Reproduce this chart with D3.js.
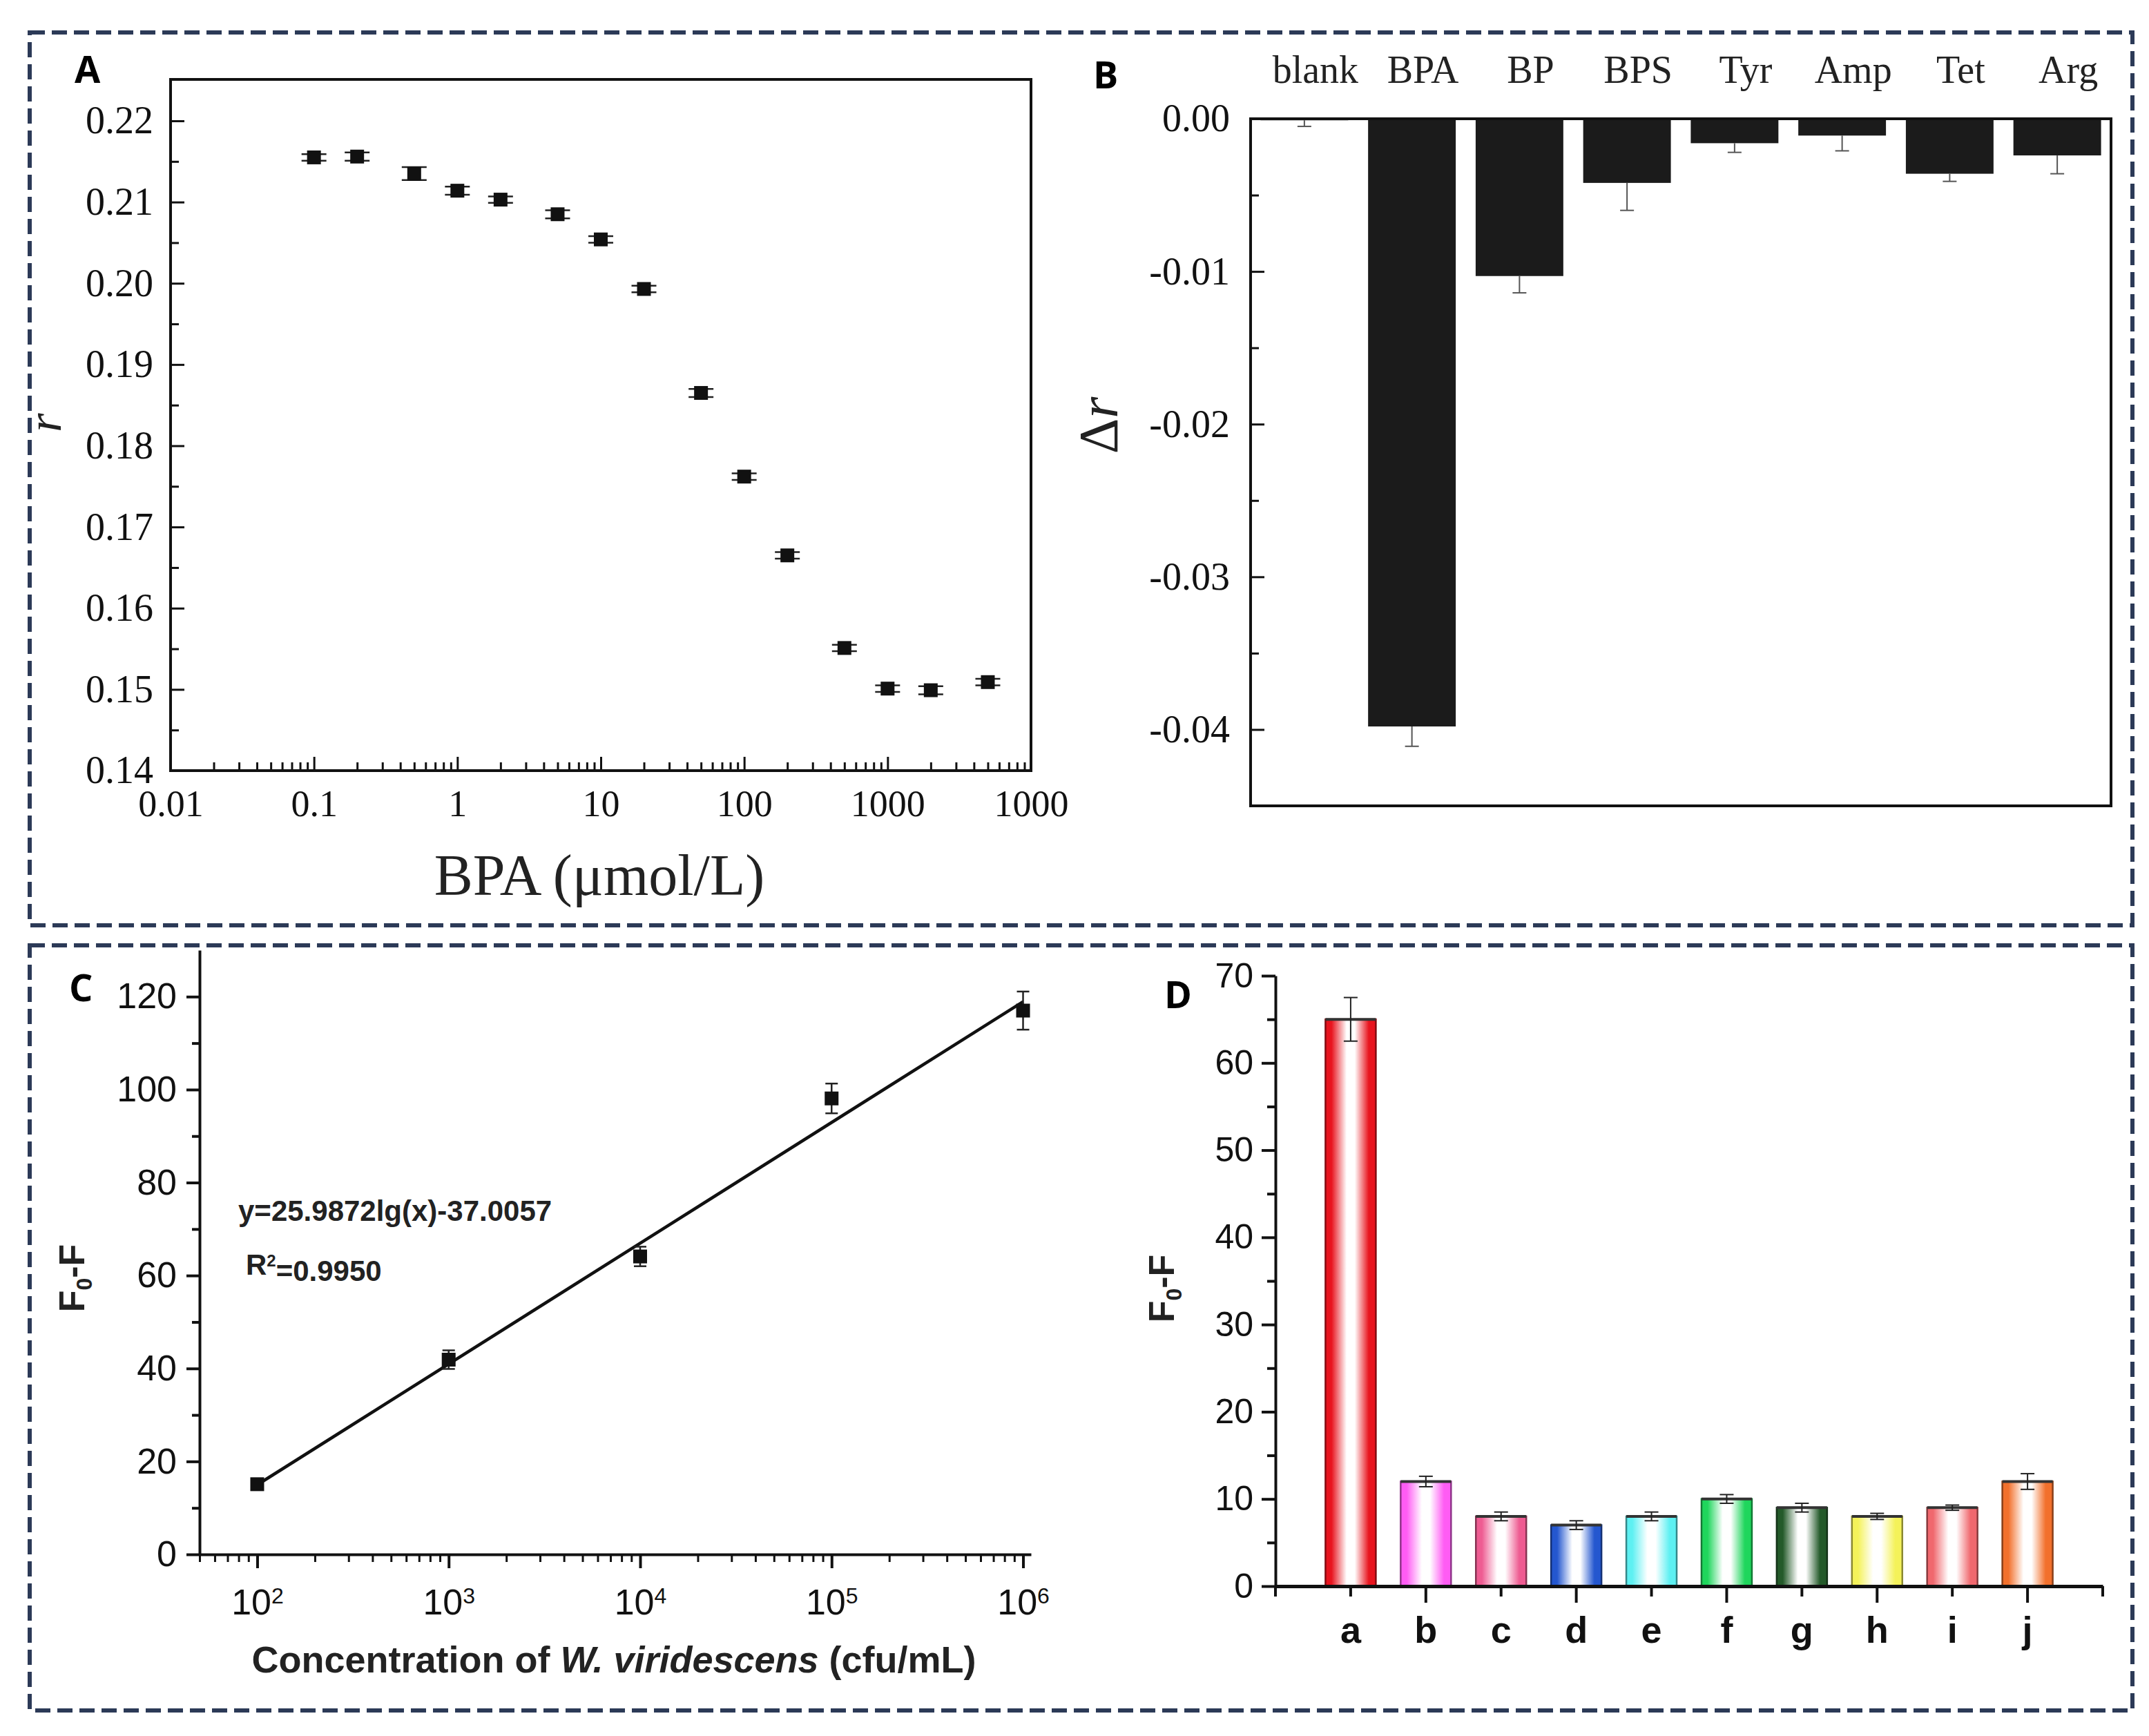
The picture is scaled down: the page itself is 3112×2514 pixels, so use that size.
<!DOCTYPE html>
<html>
<head>
<meta charset="utf-8">
<script src="https://cdn.jsdelivr.net/npm/d3@7"></script>
<style>
  body { margin: 0; background: #fff; }
</style>
</head>
<body>
<div id="container"></div>
<script>
// ---- data ----
// A: fluorescence anisotropy r vs BPA concentration
var bpaConc = [0.1, 0.2, 0.5, 1, 2, 5, 10, 20, 50, 100, 200, 500, 1000, 2000, 5000];
var bpaR    = [0.2155, 0.2156, 0.2135, 0.2114, 0.2103, 0.2085, 0.2054, 0.1993, 0.1865, 0.1762, 0.1665, 0.1551, 0.1501, 0.1499, 0.1509];
var bpaErr  = [0.0004, 0.0005, 0.0008, 0.0005, 0.0004, 0.0005, 0.0004, 0.0004, 0.0005, 0.0004, 0.0004, 0.0004, 0.0004, 0.0005, 0.0004];
var aXTicks  = [0.01, 0.1, 1, 10, 100, 1000, 10000];
var aXLabels = ["0.01", "0.1", "1", "10", "100", "1000", "1000"];
var aYTicks  = [0.14, 0.15, 0.16, 0.17, 0.18, 0.19, 0.20, 0.21, 0.22];

// B: selectivity, delta r
var selCats = ["blank", "BPA", "BP", "BPS", "Tyr", "Amp", "Tet", "Arg"];
var selDr   = [-0.0001, -0.0398, -0.0103, -0.0042, -0.0016, -0.0011, -0.0036, -0.0024];
var selErr  = [0.0004, 0.0013, 0.0011, 0.0018, 0.0006, 0.0010, 0.0005, 0.0012];
var bYTicks  = [0, -0.01, -0.02, -0.03, -0.04];
var bYLabels = ["0.00", "-0.01", "-0.02", "-0.03", "-0.04"];

// C: calibration, F0-F vs W. viridescens concentration
var cellConc   = [1e2, 1e3, 1e4, 1e5, 1e6];
var cellSignal = [15.1, 41.9, 64.1, 98.1, 117.0];
var cellErr    = [0.9, 2.0, 2.1, 3.2, 4.1];
var fitCoef    = [25.9872, -37.0057];   // y = a*lg(x) + b
var fitRange   = [1e2, 1e6];
var cXTicks    = [1e2, 1e3, 1e4, 1e5, 1e6];
var cYTicks    = [0, 20, 40, 60, 80, 100, 120];

// D: specificity, F0-F per strain
var strainCats = ["a", "b", "c", "d", "e", "f", "g", "h", "i", "j"];
var strainVals = [65, 12, 8, 7, 8, 10, 9, 8, 9, 12];
var strainErr  = [2.5, 0.6, 0.5, 0.5, 0.5, 0.5, 0.5, 0.35, 0.3, 0.9];
var dYTicks    = [0, 10, 20, 30, 40, 50, 60, 70];
var strainColors = ["#e8141e", "#ff5cf4", "#ee5c92", "#2457cf", "#5ef0f2", "#1fd65c",
                    "#245a2a", "#f4f25a", "#f0686e", "#f2702c"];

var SERIF = "'Liberation Serif', 'Times New Roman', serif";
var SANS  = "'Liberation Sans', Arial, sans-serif";

var svg = d3.select("#container")
  .append("svg")
    .attr("width", 3112)
    .attr("height", 2514);

svg.append("rect").attr("width", 3112).attr("height", 2514).attr("fill", "#fff");

// dashed boxes around the two rows
[[43, 47, 3088, 1340], [43, 1369, 3088, 2477]].forEach(function(b) {
  svg.append("rect")
    .attr("x", b[0]).attr("y", b[1])
    .attr("width", b[2] - b[0]).attr("height", b[3] - b[1])
    .attr("fill", "none")
    .attr("stroke", "#2c3a57")
    .attr("stroke-width", 6)
    .attr("stroke-dasharray", "22,10");
});

function panelLetter(t, x, y) {
  svg.append("text")
    .attr("x", x).attr("y", y)
    .attr("font-family", "'Open Sans', 'Liberation Sans', sans-serif")
    .attr("font-weight", "bold")
    .attr("font-size", 54)
    .text(t);
}

function logMinors(lo, hi) {
  var out = [];
  for (var e = -3; e <= 7; e++) {
    for (var k = 2; k <= 9; k++) {
      var v = k * Math.pow(10, e);
      if (v >= lo && v <= hi) out.push(v);
    }
  }
  return out;
}

function styleAxis(g, font, size, sw) {
  g.attr("font-family", font).attr("font-size", size).attr("fill", "#111");
  g.selectAll("line").attr("stroke", "#111").attr("stroke-width", sw);
  g.selectAll("path").attr("stroke", "#111").attr("stroke-width", sw);
  g.selectAll("text").attr("fill", "#111");
}

// ================= Panel A =================
var A = {left: 247, right: 1493, top: 115, bottom: 1116};
var xA = d3.scaleLog().domain([0.01, 10000]).range([A.left, A.right]);
var yA = d3.scaleLinear().domain([0.14, 0.2251]).range([A.bottom, A.top]);

var gAx = svg.append("g")
  .attr("transform", "translate(0," + A.bottom + ")")
  .call(d3.axisBottom(xA).tickValues(aXTicks).tickFormat(function(d, i) { return aXLabels[i]; })
        .tickSizeInner(-20).tickSizeOuter(0).tickPadding(28));
gAx.select(".domain").remove();
styleAxis(gAx, SERIF, 54, 3);

var gAxm = svg.append("g")
  .attr("transform", "translate(0," + A.bottom + ")")
  .call(d3.axisBottom(xA).tickValues(logMinors(0.01, 10000)).tickFormat("").tickSizeInner(-12).tickSizeOuter(0));
gAxm.select(".domain").remove();
styleAxis(gAxm, SERIF, 54, 3);

var gAy = svg.append("g")
  .attr("transform", "translate(" + A.left + ",0)")
  .call(d3.axisLeft(yA).tickValues(aYTicks).tickFormat(d3.format(".2f"))
        .tickSizeInner(-20).tickSizeOuter(0).tickPadding(25));
gAy.select(".domain").remove();
styleAxis(gAy, SERIF, 56, 3);

var gAym = svg.append("g")
  .attr("transform", "translate(" + A.left + ",0)")
  .call(d3.axisLeft(yA).tickValues([0.145, 0.155, 0.165, 0.175, 0.185, 0.195, 0.205, 0.215]).tickFormat("")
        .tickSizeInner(-12).tickSizeOuter(0));
gAym.select(".domain").remove();
styleAxis(gAym, SERIF, 56, 3);

svg.append("rect")
  .attr("x", A.left).attr("y", A.top)
  .attr("width", A.right - A.left).attr("height", A.bottom - A.top)
  .attr("fill", "none").attr("stroke", "#111").attr("stroke-width", 4);

var ptsA = bpaConc.map(function(c, i) { return {x: c, y: bpaR[i], e: bpaErr[i]}; });
var eA = svg.append("g").attr("stroke", "#222").attr("stroke-width", 2.5);
ptsA.forEach(function(p) {
  var cx = xA(p.x);
  eA.append("line").attr("x1", cx).attr("x2", cx).attr("y1", yA(p.y - p.e)).attr("y2", yA(p.y + p.e));
  eA.append("line").attr("x1", cx - 18).attr("x2", cx + 18).attr("y1", yA(p.y - p.e)).attr("y2", yA(p.y - p.e));
  eA.append("line").attr("x1", cx - 18).attr("x2", cx + 18).attr("y1", yA(p.y + p.e)).attr("y2", yA(p.y + p.e));
});
svg.append("g").selectAll("rect")
  .data(ptsA).enter().append("rect")
    .attr("x", function(d) { return xA(d.x) - 10; })
    .attr("y", function(d) { return yA(d.y) - 10; })
    .attr("width", 20).attr("height", 20)
    .attr("fill", "#111");

svg.append("text")
  .attr("x", (A.left + A.right) / 2 - 2).attr("y", 1296)
  .attr("text-anchor", "middle")
  .attr("font-family", SERIF).attr("font-size", 84).attr("fill", "#222")
  .text("BPA (μmol/L)");

svg.append("text")
  .attr("transform", "translate(88,612) rotate(-90)")
  .attr("text-anchor", "middle")
  .attr("font-family", SERIF).attr("font-style", "italic").attr("font-size", 70).attr("fill", "#222")
  .text("r");

panelLetter("A", 108, 120);

// ================= Panel B =================
var B = {left: 1811, right: 3057, top: 172, bottom: 1167};
var xB = d3.scaleBand().domain(selCats).range([B.left, B.right]).paddingInner(0.185).paddingOuter(0.0925);
var yB = d3.scaleLinear().domain([-0.045, 0]).range([B.bottom, B.top]);

var gBy = svg.append("g")
  .attr("transform", "translate(" + B.left + ",0)")
  .call(d3.axisLeft(yB).tickValues(bYTicks).tickFormat(function(d, i) { return bYLabels[i]; })
        .tickSizeInner(-20).tickSizeOuter(0).tickPadding(30));
gBy.select(".domain").remove();
styleAxis(gBy, SERIF, 56, 3);

var gBym = svg.append("g")
  .attr("transform", "translate(" + B.left + ",0)")
  .call(d3.axisLeft(yB).tickValues([-0.005, -0.015, -0.025, -0.035]).tickFormat("")
        .tickSizeInner(-12).tickSizeOuter(0));
gBym.select(".domain").remove();
styleAxis(gBym, SERIF, 56, 3);

var ptsB = selCats.map(function(c, i) { return {c: c, v: selDr[i], e: selErr[i]}; });
svg.append("g").selectAll("rect")
  .data(ptsB).enter().append("rect")
    .attr("x", function(d) { return xB(d.c); })
    .attr("y", yB(0))
    .attr("width", xB.bandwidth())
    .attr("height", function(d) { return yB(d.v) - yB(0); })
    .attr("fill", "#1b1b1b");

var eB = svg.append("g").attr("stroke", "#555").attr("stroke-width", 2);
ptsB.forEach(function(p) {
  var cx = xB(p.c) + xB.bandwidth() / 2;
  eB.append("line").attr("x1", cx).attr("x2", cx).attr("y1", yB(p.v)).attr("y2", yB(p.v - p.e));
  eB.append("line").attr("x1", cx - 10).attr("x2", cx + 10).attr("y1", yB(p.v - p.e)).attr("y2", yB(p.v - p.e));
});

svg.append("rect")
  .attr("x", B.left).attr("y", B.top)
  .attr("width", B.right - B.left).attr("height", B.bottom - B.top)
  .attr("fill", "none").attr("stroke", "#111").attr("stroke-width", 4);

svg.append("g").selectAll("text")
  .data(selCats).enter().append("text")
    .attr("x", function(d) { return xB(d) + xB.bandwidth() / 2 + 16; })
    .attr("y", 120)
    .attr("text-anchor", "middle")
    .attr("font-family", SERIF).attr("font-size", 56).attr("fill", "#222")
    .text(function(d) { return d; });

var tB = svg.append("text")
  .attr("transform", "translate(1618,616) rotate(-90)")
  .attr("text-anchor", "middle")
  .attr("font-family", SERIF).attr("font-size", 80).attr("fill", "#222");
tB.append("tspan").text("Δ");
tB.append("tspan").attr("font-style", "italic").text("r");

panelLetter("B", 1583, 128);

// ================= Panel C =================
var C = {left: 289, right: 1493, top: 1376, bottom: 2251};
var xC = d3.scaleLog().domain([50, 1.1e6]).range([C.left, C.right]);
var yC = d3.scaleLinear().domain([0, 130]).range([C.bottom, C.top]);

var gCy = svg.append("g")
  .attr("transform", "translate(" + C.left + ",0)")
  .call(d3.axisLeft(yC).tickValues(cYTicks).tickSizeInner(19).tickSizeOuter(0).tickPadding(14));
styleAxis(gCy, SANS, 52, 4);

var gCym = svg.append("g")
  .attr("transform", "translate(" + C.left + ",0)")
  .call(d3.axisLeft(yC).tickValues([10, 30, 50, 70, 90, 110]).tickFormat("").tickSizeInner(11).tickSizeOuter(0));
gCym.select(".domain").remove();
styleAxis(gCym, SANS, 52, 4);

var gCx = svg.append("g")
  .attr("transform", "translate(0," + C.bottom + ")")
  .call(d3.axisBottom(xC).tickValues(cXTicks).tickSizeInner(20).tickSizeOuter(0).tickPadding(30));
styleAxis(gCx, SANS, 52, 4);
gCx.selectAll(".tick text").each(function(d) {
  var t = d3.select(this);
  t.text(null);
  t.append("tspan").text("10");
  t.append("tspan").attr("dy", "-0.5em").attr("font-size", 32).text(Math.round(Math.log10(d)));
});

var gCxm = svg.append("g")
  .attr("transform", "translate(0," + C.bottom + ")")
  .call(d3.axisBottom(xC).tickValues(logMinors(50, 1.05e6)).tickFormat("").tickSizeInner(11).tickSizeOuter(0));
gCxm.select(".domain").remove();
styleAxis(gCxm, SANS, 52, 3);

var fitPts = fitRange.map(function(x) { return {x: x, y: fitCoef[0] * Math.log10(x) + fitCoef[1]}; });
svg.append("path")
  .datum(fitPts)
  .attr("fill", "none").attr("stroke", "#111").attr("stroke-width", 4.5)
  .attr("d", d3.line().x(function(d) { return xC(d.x); }).y(function(d) { return yC(d.y); }));

var ptsC = cellConc.map(function(c, i) { return {x: c, y: cellSignal[i], e: cellErr[i]}; });
var eC = svg.append("g").attr("stroke", "#222").attr("stroke-width", 2.5);
ptsC.forEach(function(p) {
  var cx = xC(p.x);
  eC.append("line").attr("x1", cx).attr("x2", cx).attr("y1", yC(p.y - p.e)).attr("y2", yC(p.y + p.e));
  eC.append("line").attr("x1", cx - 9).attr("x2", cx + 9).attr("y1", yC(p.y - p.e)).attr("y2", yC(p.y - p.e));
  eC.append("line").attr("x1", cx - 9).attr("x2", cx + 9).attr("y1", yC(p.y + p.e)).attr("y2", yC(p.y + p.e));
});
svg.append("g").selectAll("rect")
  .data(ptsC).enter().append("rect")
    .attr("x", function(d) { return xC(d.x) - 10; })
    .attr("y", function(d) { return yC(d.y) - 10; })
    .attr("width", 20).attr("height", 20)
    .attr("fill", "#111");

svg.append("text")
  .attr("x", 345).attr("y", 1768)
  .attr("font-family", SANS).attr("font-weight", "bold").attr("font-size", 42).attr("fill", "#222")
  .text("y=" + fitCoef[0].toFixed(4) + "lg(x)" + fitCoef[1].toFixed(4));

var tR = svg.append("text")
  .attr("x", 356).attr("y", 1846)
  .attr("font-family", SANS).attr("font-weight", "bold").attr("font-size", 42).attr("fill", "#222");
tR.append("tspan").text("R");
tR.append("tspan").attr("dy", "-0.5em").attr("font-size", 24).text("2");
tR.append("tspan").attr("dy", "0.5em").text("=0.9950");

var tCx = svg.append("text")
  .attr("x", 889).attr("y", 2422)
  .attr("text-anchor", "middle")
  .attr("font-family", SANS).attr("font-weight", "bold").attr("font-size", 54).attr("fill", "#222");
tCx.append("tspan").text("Concentration of ");
tCx.append("tspan").attr("font-style", "italic").text("W. viridescens");
tCx.append("tspan").text(" (cfu/mL)");

function f0Title(x, y) {
  var t = svg.append("text")
    .attr("transform", "translate(" + x + "," + y + ") rotate(-90)")
    .attr("text-anchor", "middle")
    .attr("font-family", SANS).attr("font-weight", "bold").attr("font-size", 52).attr("fill", "#222");
  t.append("tspan").text("F");
  t.append("tspan").attr("dy", "0.35em").attr("font-size", 32).text("0");
  t.append("tspan").attr("dy", "-0.22em").text("-F");
}
f0Title(122, 1851);

panelLetter("C", 100, 1450);

// ================= Panel D =================
var D = {left: 1847, right: 3045, top: 1413, bottom: 2297};
var xD = d3.scaleBand().domain(strainCats).range([D.left, D.right]).paddingInner(0.33).paddingOuter(0.665);
var yD = d3.scaleLinear().domain([0, 70]).range([D.bottom, D.top]);

var defs = svg.append("defs");
strainCats.forEach(function(c, i) {
  var col = strainColors[i];
  var gr = defs.append("linearGradient").attr("id", "grad-" + c)
    .attr("x1", "0%").attr("x2", "100%").attr("y1", "0%").attr("y2", "0%");
  [[0, col], [0.12, col], [0.42, "#ffffff"], [0.58, "#ffffff"], [0.86, col], [1, col]].forEach(function(s) {
    gr.append("stop").attr("offset", s[0]).attr("stop-color", s[1]);
  });
});

var ptsD = strainCats.map(function(c, i) { return {c: c, v: strainVals[i], e: strainErr[i], col: strainColors[i]}; });
svg.append("g").selectAll("rect")
  .data(ptsD).enter().append("rect")
    .attr("x", function(d) { return xD(d.c); })
    .attr("y", function(d) { return yD(d.v); })
    .attr("width", xD.bandwidth())
    .attr("height", function(d) { return yD(0) - yD(d.v); })
    .attr("fill", function(d) { return "url(#grad-" + d.c + ")"; })
    .attr("stroke", function(d) { return d3.color(d.col).darker(1.6); })
    .attr("stroke-width", 2.5);

// darker top edge of each bar
svg.append("g").selectAll("line")
  .data(ptsD).enter().append("line")
    .attr("x1", function(d) { return xD(d.c); })
    .attr("x2", function(d) { return xD(d.c) + xD.bandwidth(); })
    .attr("y1", function(d) { return yD(d.v); })
    .attr("y2", function(d) { return yD(d.v); })
    .attr("stroke", "#333").attr("stroke-width", 4);

var eD = svg.append("g").attr("stroke", "#222").attr("stroke-width", 2);
ptsD.forEach(function(p) {
  var cx = xD(p.c) + xD.bandwidth() / 2;
  eD.append("line").attr("x1", cx).attr("x2", cx).attr("y1", yD(p.v - p.e)).attr("y2", yD(p.v + p.e));
  eD.append("line").attr("x1", cx - 10).attr("x2", cx + 10).attr("y1", yD(p.v - p.e)).attr("y2", yD(p.v - p.e));
  eD.append("line").attr("x1", cx - 10).attr("x2", cx + 10).attr("y1", yD(p.v + p.e)).attr("y2", yD(p.v + p.e));
});

var gDy = svg.append("g")
  .attr("transform", "translate(" + D.left + ",0)")
  .call(d3.axisLeft(yD).tickValues(dYTicks).tickSizeInner(20).tickSizeOuter(0).tickPadding(12));
styleAxis(gDy, SANS, 50, 4);

var gDym = svg.append("g")
  .attr("transform", "translate(" + D.left + ",0)")
  .call(d3.axisLeft(yD).tickValues([5, 15, 25, 35, 45, 55, 65]).tickFormat("").tickSizeInner(12).tickSizeOuter(0));
gDym.select(".domain").remove();
styleAxis(gDym, SANS, 50, 4);

var gDx = svg.append("g")
  .attr("transform", "translate(0," + D.bottom + ")")
  .call(d3.axisBottom(xD).tickSizeInner(0).tickSizeOuter(0).tickPadding(44));
styleAxis(gDx, SANS, 54, 5);
gDx.selectAll(".tick text").attr("font-weight", "bold");
// category ticks alternate short / long, plus one at each end of the axis
gDx.selectAll(".tick line")
  .attr("y2", function(d, i) { return i % 2 === 0 ? 15 : 24; })
  .attr("stroke-width", 4);
xD.range().forEach(function(x) {
  gDx.append("line").attr("x1", x).attr("x2", x).attr("y1", 0).attr("y2", 15)
    .attr("stroke", "#111").attr("stroke-width", 4);
});

f0Title(1700, 1866);

panelLetter("D", 1686, 1460);
</script>
</body>
</html>
